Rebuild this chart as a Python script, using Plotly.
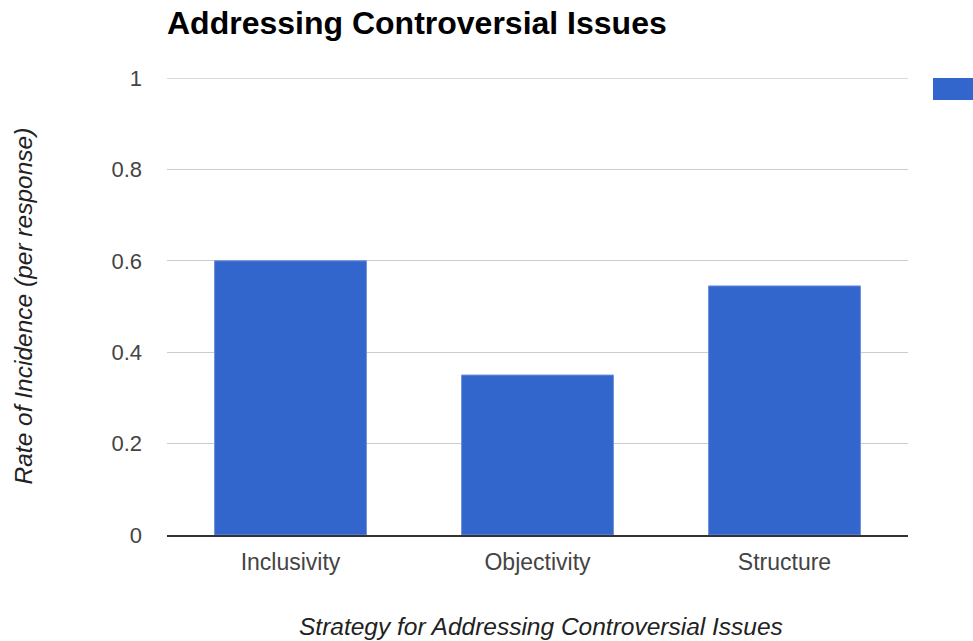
import plotly.graph_objects as go

categories = ["Inclusivity", "Objectivity", "Structure"]
values = [0.6, 0.35, 0.545]
y_ticks = [0, 0.2, 0.4, 0.6, 0.8, 1]
y_tick_labels = ["0", "0.2", "0.4", "0.6", "0.8", "1"]

title_text = "Addressing Controversial Issues"
x_title = "Strategy for Addressing Controversial Issues"
y_title = "Rate of Incidence (per response)"

FONT = "Liberation Sans, Arial, sans-serif"
BLUE = "#3366cc"

fig = go.Figure()
fig.add_trace(go.Bar(
    x=categories, y=values,
    marker=dict(color=BLUE, line=dict(color="#6f8fdc", width=1)),
    showlegend=False,
    hoverinfo="x+y",
))

fig.update_layout(
    width=973, height=641,
    margin=dict(l=167, r=65, t=78, b=106, autoexpand=False),
    paper_bgcolor="white", plot_bgcolor="white",
    bargap=0.385,
    font=dict(family=FONT, size=22, color="#444444"),
    title=dict(
        text="<b>" + title_text + "</b>",
        x=167 / 973, xanchor="left", xref="container",
        y=1 - 23 / 641, yanchor="middle", yref="container",
        font=dict(family=FONT, size=32, color="#000000"),
    ),
    xaxis=dict(
        showgrid=False, showline=True, linecolor="#333333", linewidth=1.5,
        ticks="", ticklabelstandoff=6, automargin=False,
        tickfont=dict(family=FONT, size=23, color="#444444"),
    ),
    yaxis=dict(
        range=[0, 1], tickvals=y_ticks, ticktext=y_tick_labels,
        showgrid=True, gridcolor="#cccccc", gridwidth=1,
        zeroline=False, showline=False, ticks="", ticklabelstandoff=24,
        automargin=False,
        tickfont=dict(family=FONT, size=22, color="#444444"),
    ),
    annotations=[
        dict(text="<i>" + x_title + "</i>", xref="paper", yref="paper",
             x=0.5 + 3 / 741, y=-(626 - 535) / 457, xanchor="center", yanchor="middle",
             showarrow=False, font=dict(family=FONT, size=24.5, color="#222222")),
        dict(text="<i>" + y_title + "</i>", xref="paper", yref="paper",
             x=-(167 - 23) / 741, y=0.5, xanchor="center", yanchor="middle",
             textangle=-90, showarrow=False,
             font=dict(family=FONT, size=24.5, color="#222222")),
    ],
    shapes=[
        # top gridline (plotly drops gridlines at the very edge of the range)
        dict(type="line", xref="paper", yref="y",
             x0=0, x1=1, y0=y_ticks[-1], y1=y_ticks[-1],
             line=dict(color="#cccccc", width=1.5), layer="below"),
        # clipped legend swatch
        dict(type="rect", xref="paper", yref="paper",
             x0=(933 - 167) / 741, x1=(990 - 167) / 741,
             y0=1 - 22 / 457, y1=1.0,
             fillcolor=BLUE, line=dict(width=0)),
    ],
)

fig.write_html("out.html", config={"displayModeBar": False},
               post_script="document.body.style.margin='0';")
